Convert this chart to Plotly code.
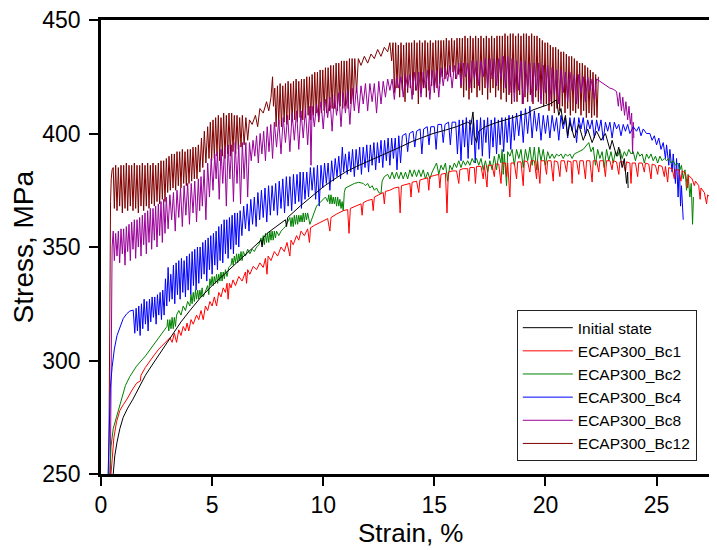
import plotly.graph_objects as go

# ---- data (strain %, stress MPa) ----
initial_state = [
    (0.55, 250), (0.62, 258), (0.72, 264), (0.85, 270), (1.0, 275), (1.2, 279), (1.44, 283), (1.7, 288),
    (2.0, 293.5), (2.3, 298), (2.6, 302.5), (2.97, 308), (3.3, 313), (3.6, 317), (4.0, 322), (4.46, 327.5),
    (5.0, 333), (5.5, 337.5), (5.94, 341.5), (6.5, 346.5), (7.0, 351), (7.2, 353), (7.25, 350), (7.3, 354),
    (7.47, 356), (8.0, 360), (8.3, 362), (8.35, 359), (8.4, 363), (8.96, 368), (9.5, 372.5), (10.0, 376.5),
    (10.44, 379.5), (11.0, 383), (11.5, 385.5), (11.97, 387.5), (12.5, 390), (13.0, 392), (13.46, 394),
    (14.0, 396.5), (14.5, 398.5), (14.94, 400), (15.5, 401.5), (16.0, 403), (16.5, 405), (16.65, 404),
    (16.74, 409.5), (16.8, 399), (16.9, 396), (17.0, 401), (17.3, 403), (17.7, 404.5), (18.2, 406),
    (18.7, 407.5), (19.2, 409), (19.44, 410.4), (19.8, 411.5), (20.2, 413), (20.5, 414.8), (20.6, 408),
    (20.7, 411), (20.8, 404), (20.9, 408), (21.0, 399), (21.1, 405), (21.3, 398), (21.5, 404), (21.7, 397),
    (21.9, 402), (22.1, 396), (22.3, 401), (22.5, 397), (22.7, 400), (22.9, 393), (23.0, 397), (23.2, 390),
    (23.3, 394), (23.45, 385), (23.55, 389), (23.65, 378), (23.7, 383), (23.72, 376),
]

ecap_bc1 = [
    (0.45, 250), (0.5, 258), (0.58, 266), (0.7, 273), (0.85, 278), (1.0, 280.5), (1.17, 283), (1.4, 287),
    (1.6, 290), (1.77, 291), (1.8, 293.5), (2.0, 297), (2.2, 300), (2.4, 302.5), (2.6, 305), (2.85, 307.5),
    (3.1, 310), (3.2, 308), (3.3, 312), (3.4, 308), (3.5, 313.5), (3.6, 311), (3.7, 315), (3.8, 313),
    (3.87, 316.5), (3.95, 313), (4.05, 318), (4.15, 316), (4.3, 320), (4.4, 318), (4.5, 322), (4.6, 318),
    (4.7, 324), (4.8, 322), (4.9, 326), (5.0, 324), (5.1, 328), (5.2, 324), (5.3, 330), (5.4, 328),
    (5.5, 332), (5.6, 330), (5.67, 334), (5.72, 327), (5.78, 334), (5.85, 332), (5.94, 335.5), (6.05, 333),
    (6.2, 337), (6.35, 335), (6.5, 339), (6.55, 334), (6.6, 340), (6.7, 338), (6.85, 341.5), (7.0, 340),
    (7.15, 343), (7.3, 341), (7.4, 345), (7.47, 338), (7.52, 346), (7.65, 344), (7.8, 348), (7.95, 346),
    (8.1, 350), (8.25, 348), (8.37, 352), (8.5, 346), (8.55, 353), (8.65, 351), (8.8, 355), (8.9, 353),
    (9.0, 357), (9.15, 355), (9.3, 358), (9.38, 352), (9.43, 358.5), (9.6, 359.5), (9.8, 360.5),
    (10.0, 361.5), (10.2, 362.5), (10.3, 357), (10.35, 363), (10.6, 364.5), (10.9, 366), (11.1, 366.5),
    (11.16, 356), (11.22, 367), (11.5, 368), (11.7, 369), (11.75, 364), (11.8, 369.5), (12.0, 370.5),
    (12.2, 371), (12.25, 366), (12.3, 372), (12.5, 373), (12.7, 374), (12.75, 369), (12.8, 374.5),
    (13.0, 375), (13.2, 376), (13.4, 376.4), (13.46, 365), (13.52, 377), (13.7, 377.5), (13.9, 378),
    (13.95, 372), (14.0, 378.5), (14.2, 379), (14.3, 374), (14.35, 379.5), (14.5, 380), (14.7, 380.5),
    (14.75, 375), (14.8, 381), (15.0, 381.5), (15.2, 382), (15.25, 376), (15.3, 382), (15.5, 382.5),
    (15.57, 365), (15.63, 383), (15.8, 383.5), (16.0, 383.5), (16.1, 378), (16.15, 384), (16.3, 384.5),
    (16.5, 384.5), (16.55, 379), (16.6, 385), (16.8, 385), (16.85, 378), (16.9, 385.5), (17.1, 385.5),
    (17.2, 380), (17.25, 386), (17.37, 376.4), (17.42, 386), (17.6, 386), (17.7, 381), (17.75, 386.5),
    (17.9, 386.5), (18.0, 378), (18.05, 387), (18.2, 387), (18.25, 381), (18.3, 387), (18.4, 372),
    (18.45, 387), (18.6, 387), (18.7, 380), (18.75, 387.5), (18.9, 387.5), (19.0, 377), (19.05, 388),
    (19.2, 387.5), (19.3, 383), (19.35, 388), (19.5, 388), (19.6, 380), (19.65, 388), (19.75, 378),
    (19.8, 388), (19.95, 388), (20.05, 382), (20.1, 388), (20.25, 388), (20.35, 379), (20.4, 388),
    (20.55, 387.5), (20.65, 381), (20.7, 388), (20.85, 388), (20.95, 383), (21.0, 388), (21.15, 387.5),
    (21.2, 378), (21.25, 388), (21.4, 388), (21.5, 382), (21.55, 388), (21.7, 388), (21.8, 380),
    (21.85, 388), (22.0, 388), (22.1, 378.6), (22.15, 388), (22.3, 388), (22.4, 383), (22.45, 388),
    (22.6, 388), (22.7, 381), (22.75, 388), (22.9, 388), (23.0, 384), (23.05, 388), (23.2, 387.5),
    (23.3, 382), (23.35, 387.5), (23.5, 387.5), (23.6, 383), (23.65, 387.5), (23.8, 387), (23.85, 378),
    (23.9, 387), (24.05, 387), (24.15, 381), (24.2, 387), (24.35, 387), (24.45, 383), (24.5, 387),
    (24.65, 386.5), (24.75, 380), (24.8, 386.5), (24.95, 386), (25.05, 382), (25.1, 386), (25.25, 385.5),
    (25.35, 381), (25.4, 385.5), (25.5, 378.6), (25.55, 385), (25.7, 384.5), (25.8, 380), (25.85, 384),
    (26.0, 384), (26.1, 379), (26.15, 383.5), (26.3, 382.6), (26.4, 376), (26.45, 381.5), (26.6, 380),
    (26.7, 377), (26.75, 379), (26.9, 377), (26.96, 371), (27.0, 376), (27.15, 374), (27.25, 369),
    (27.3, 373), (27.45, 371.5), (27.54, 368), (27.6, 370),
]

ecap_bc2 = [
    (0.40, 250), (0.45, 262), (0.55, 270), (0.72, 276), (0.9, 283), (1.1, 289), (1.3, 293), (1.6, 297.5),
    (2.0, 302), (2.2, 304.6), (2.6, 310), (2.97, 315), (3.0, 318), (3.05, 313), (3.1, 318), (3.15, 314),
    (3.2, 319), (3.25, 314), (3.3, 319), (3.35, 315), (3.4, 320), (3.5, 322), (3.6, 320), (3.7, 324),
    (3.8, 322), (3.9, 326), (4.0, 324), (4.05, 329), (4.1, 325), (4.15, 330), (4.2, 326), (4.25, 331),
    (4.3, 327), (4.35, 331), (4.4, 327), (4.45, 331), (4.5, 328), (4.55, 332), (4.6, 328), (4.7, 331),
    (4.8, 333), (4.85, 329), (4.9, 336), (4.95, 333), (5.0, 337), (5.05, 333), (5.1, 337), (5.15, 334),
    (5.2, 338), (5.25, 334), (5.3, 338), (5.35, 335), (5.4, 339), (5.45, 335), (5.5, 339), (5.55, 336),
    (5.6, 340), (5.67, 337), (5.75, 341), (5.85, 342), (5.9, 345), (5.95, 342), (6.0, 346), (6.05, 343),
    (6.1, 347), (6.15, 343), (6.2, 347), (6.25, 344), (6.3, 348), (6.35, 344), (6.4, 348), (6.5, 346),
    (6.6, 349), (6.7, 347), (6.8, 349), (6.9, 348), (7.0, 350), (7.1, 351), (7.2, 354), (7.25, 351),
    (7.3, 355), (7.35, 351), (7.4, 356), (7.45, 352), (7.5, 356), (7.55, 352), (7.6, 357), (7.65, 353),
    (7.7, 357), (7.75, 353), (7.8, 357), (7.85, 354), (7.9, 357), (8.0, 355), (8.1, 357), (8.2, 358),
    (8.3, 359), (8.4, 361), (8.5, 363), (8.55, 359), (8.6, 363), (8.65, 359), (8.7, 364), (8.75, 360),
    (8.8, 364), (8.85, 360), (8.9, 364), (8.95, 361), (9.0, 364), (9.05, 361), (9.1, 365), (9.15, 361),
    (9.2, 365), (9.25, 362), (9.3, 365), (9.4, 360), (9.5, 363), (9.6, 366), (9.7, 368), (9.8, 369),
    (9.9, 370), (10.0, 371), (10.1, 372), (10.2, 370), (10.25, 373), (10.3, 369), (10.35, 373),
    (10.4, 369), (10.45, 372), (10.5, 369), (10.55, 372), (10.6, 368), (10.65, 372), (10.7, 368),
    (10.75, 371), (10.8, 367), (10.85, 370), (10.9, 366), (10.95, 374), (11.0, 376), (11.2, 377),
    (11.4, 378), (11.6, 378.5), (11.8, 378), (11.9, 377), (12.0, 378), (12.1, 376), (12.2, 377),
    (12.3, 375), (12.4, 376), (12.5, 374), (12.6, 373.5), (12.65, 379), (12.75, 381), (12.9, 382),
    (13.0, 380), (13.1, 383), (13.2, 380), (13.3, 383), (13.4, 380), (13.5, 383), (13.6, 380), (13.7, 383),
    (13.8, 380), (13.9, 384), (14.0, 381), (14.1, 384), (14.2, 381), (14.3, 384), (14.4, 381), (14.5, 384),
    (14.6, 380), (14.7, 383), (14.8, 380), (14.9, 383), (15.0, 385), (15.1, 387), (15.2, 382), (15.3, 386),
    (15.4, 384), (15.5, 387), (15.6, 379), (15.7, 386), (15.8, 384), (15.9, 387), (16.0, 385), (16.1, 388),
    (16.2, 385), (16.3, 388), (16.4, 386), (16.5, 388), (16.6, 386), (16.7, 389), (16.8, 387), (16.9, 389),
    (17.0, 386), (17.1, 389), (17.2, 384), (17.3, 388), (17.4, 383), (17.5, 388), (17.6, 384), (17.7, 390),
    (17.8, 384), (17.9, 391), (18.0, 387), (18.05, 393), (18.1, 382), (18.15, 391), (18.25, 377),
    (18.3, 392), (18.4, 390), (18.5, 393), (18.6, 386), (18.7, 393), (18.8, 389), (18.9, 393), (19.0, 385),
    (19.1, 393), (19.2, 388), (19.3, 394), (19.4, 386), (19.5, 394), (19.6, 384), (19.7, 394), (19.8, 388),
    (19.9, 393), (20.0, 386), (20.1, 392), (20.2, 389), (20.3, 391), (20.4, 389), (20.5, 391), (20.6, 390),
    (20.7, 391), (20.8, 389), (20.9, 391), (21.0, 390), (21.1, 391), (21.2, 389), (21.3, 391), (21.5, 392),
    (21.7, 393), (21.95, 396), (22.05, 392), (22.15, 394), (22.25, 386), (22.35, 393), (22.45, 389),
    (22.55, 392), (22.65, 385), (22.75, 393), (22.85, 388), (22.95, 392), (23.05, 387), (23.15, 392),
    (23.25, 390), (23.35, 393), (23.45, 389), (23.55, 392), (23.65, 390), (23.75, 393), (23.85, 391),
    (23.95, 392), (24.05, 388), (24.15, 392), (24.25, 390), (24.35, 391), (24.45, 387), (24.55, 391),
    (24.65, 389), (24.75, 391), (24.85, 388), (24.95, 390), (25.05, 387), (25.15, 390), (25.25, 388),
    (25.35, 389), (25.45, 388), (25.55, 389), (25.65, 387), (25.75, 388), (25.85, 386), (25.95, 387),
    (26.05, 384), (26.12, 386), (26.2, 380), (26.28, 384), (26.35, 375), (26.42, 382), (26.5, 372),
    (26.56, 378), (26.62, 360), (26.66, 372),
]

ecap_bc4 = [
    (0.32, 250), (0.36, 270), (0.42, 288), (0.5, 297), (0.6, 305), (0.72, 311), (0.86, 315), (1.0, 318.5),
    (1.16, 320.6), (1.3, 321.8), (1.45, 322.2), (1.52, 312), (1.58, 323), (1.64, 313), (1.7, 324),
    (1.76, 311), (1.82, 325), (1.88, 314), (1.94, 327), (2.0, 316), (2.06, 326), (2.12, 313), (2.18, 327),
    (2.24, 317), (2.3, 328), (2.36, 319), (2.42, 328), (2.48, 316), (2.54, 329), (2.6, 320), (2.66, 330),
    (2.72, 318), (2.78, 331), (2.84, 320), (2.9, 336), (2.96, 324), (3.02, 341), (3.08, 326), (3.14, 338),
    (3.2, 327), (3.26, 342), (3.32, 325), (3.38, 343), (3.44, 329), (3.5, 344), (3.56, 327), (3.62, 345),
    (3.68, 330), (3.74, 344), (3.8, 328), (3.86, 346), (3.92, 331), (3.98, 347), (4.04, 329), (4.1, 348),
    (4.16, 333), (4.22, 349), (4.28, 331), (4.34, 350), (4.4, 334), (4.46, 350), (4.52, 336), (4.58, 352),
    (4.64, 338), (4.7, 353), (4.76, 335), (4.82, 354), (4.88, 340), (4.94, 355), (5.0, 338), (5.06, 356),
    (5.12, 342), (5.18, 357), (5.24, 340), (5.3, 359), (5.36, 344), (5.42, 360), (5.48, 343), (5.54, 362),
    (5.6, 347), (5.66, 362), (5.72, 345), (5.78, 363), (5.84, 349), (5.9, 364), (5.96, 347), (6.02, 365),
    (6.08, 351), (6.14, 365), (6.2, 350), (6.26, 366), (6.34, 355), (6.42, 368), (6.5, 358), (6.58, 369),
    (6.66, 357), (6.74, 371), (6.82, 360), (6.9, 372), (6.98, 359), (7.06, 374), (7.14, 362), (7.22, 375),
    (7.3, 363), (7.38, 376), (7.46, 361), (7.54, 377), (7.62, 364), (7.7, 377), (7.78, 366), (7.86, 378),
    (7.94, 364), (8.02, 379), (8.1, 367), (8.18, 380), (8.26, 365), (8.34, 381), (8.42, 368), (8.5, 381),
    (8.58, 366), (8.66, 382), (8.74, 369), (8.82, 382), (8.9, 370), (8.96, 383), (9.02, 367), (9.1, 383),
    (9.18, 371), (9.26, 383), (9.34, 372), (9.42, 385), (9.5, 375), (9.58, 385), (9.66, 371), (9.74, 386),
    (9.82, 368), (9.9, 386), (9.98, 376), (10.06, 387), (10.14, 378), (10.22, 387), (10.3, 375),
    (10.38, 388), (10.46, 379), (10.54, 389), (10.62, 381), (10.7, 390), (10.78, 380), (10.86, 394),
    (10.92, 383), (11.0, 391), (11.08, 382), (11.16, 392), (11.24, 383), (11.32, 393), (11.4, 381),
    (11.48, 393), (11.56, 384), (11.64, 394), (11.72, 382), (11.8, 394), (11.88, 385), (11.96, 395),
    (12.04, 383), (12.12, 395), (12.2, 386), (12.28, 396), (12.36, 384), (12.44, 396), (12.52, 387),
    (12.6, 397), (12.68, 385), (12.76, 397), (12.84, 388), (12.92, 398), (13.0, 386), (13.08, 398),
    (13.16, 389), (13.24, 398), (13.32, 384), (13.4, 399), (13.48, 387), (13.56, 399), (13.72, 400),
    (13.8, 392), (13.88, 400), (14.04, 401), (14.12, 394), (14.2, 401), (14.36, 402), (14.44, 391),
    (14.52, 402), (14.68, 403), (14.76, 395), (14.84, 403), (15.0, 403), (15.08, 393), (15.16, 404),
    (15.32, 404), (15.4, 396), (15.48, 404), (15.64, 405), (15.72, 395), (15.8, 405), (15.96, 405),
    (16.04, 391), (16.12, 406), (16.2, 388), (16.28, 406), (16.36, 394), (16.44, 407), (16.52, 389),
    (16.6, 406), (16.68, 395), (16.76, 407), (16.84, 387), (16.92, 406), (17.0, 393), (17.08, 407),
    (17.16, 390), (17.24, 406), (17.32, 396), (17.4, 407), (17.48, 389), (17.56, 406), (17.64, 394),
    (17.72, 407), (17.8, 391), (17.88, 406), (17.96, 395), (18.04, 407), (18.12, 392), (18.2, 407),
    (18.28, 396), (18.36, 408), (18.44, 393), (18.52, 408), (18.6, 397), (18.7, 409), (18.8, 399),
    (18.9, 410), (19.0, 396), (19.1, 411), (19.2, 400), (19.3, 412), (19.4, 398), (19.5, 410), (19.6, 401),
    (19.7, 409), (19.8, 397), (19.9, 408), (20.0, 400), (20.1, 408), (20.2, 398), (20.3, 408), (20.4, 401),
    (20.5, 407), (20.6, 397), (20.7, 408), (20.8, 402), (20.9, 407), (21.0, 398), (21.1, 407), (21.2, 401),
    (21.3, 407), (21.4, 396), (21.5, 407), (21.6, 402), (21.7, 407), (21.8, 399), (21.9, 406), (22.0, 402),
    (22.1, 406), (22.2, 398), (22.3, 406), (22.4, 401), (22.5, 406), (22.6, 397), (22.7, 405), (22.8, 401),
    (22.9, 405), (23.0, 398), (23.1, 405), (23.2, 402), (23.3, 404), (23.4, 399), (23.5, 404), (23.6, 401),
    (23.7, 404), (23.8, 400), (23.95, 403), (24.1, 401), (24.2, 403), (24.3, 399), (24.4, 402),
    (24.55, 400), (24.7, 400), (24.8, 397), (24.9, 399), (25.0, 395), (25.1, 398), (25.2, 393),
    (25.3, 396), (25.4, 389), (25.45, 395), (25.55, 386), (25.6, 393), (25.7, 383), (25.75, 391),
    (25.85, 378), (25.9, 389), (25.97, 372), (26.02, 387), (26.08, 368), (26.12, 377), (26.2, 362),
]

ecap_bc8 = [
    (0.42, 250), (0.44, 290), (0.47, 330), (0.5, 350), (0.55, 357), (0.6, 344), (0.66, 356), (0.72, 346),
    (0.78, 357), (0.84, 343), (0.9, 358), (0.96, 347), (1.02, 358), (1.08, 342), (1.14, 359), (1.2, 348),
    (1.26, 360), (1.32, 344), (1.38, 361), (1.44, 349), (1.5, 362), (1.56, 345), (1.62, 362), (1.68, 350),
    (1.74, 363), (1.8, 346), (1.86, 364), (1.92, 351), (1.98, 365), (2.04, 347), (2.1, 366), (2.16, 352),
    (2.22, 367), (2.28, 349), (2.34, 367), (2.4, 353), (2.46, 368), (2.52, 350), (2.58, 369), (2.64, 355),
    (2.7, 370), (2.76, 352), (2.82, 371), (2.88, 356), (2.94, 372), (3.02, 358), (3.1, 373), (3.18, 362),
    (3.26, 374), (3.34, 357), (3.42, 375), (3.5, 363), (3.58, 376), (3.66, 359), (3.74, 377), (3.82, 364),
    (3.9, 378), (3.98, 360), (4.06, 378), (4.14, 365), (4.22, 379), (4.3, 361), (4.38, 380), (4.44, 366),
    (4.5, 381), (4.56, 368), (4.64, 384), (4.72, 362), (4.8, 387), (4.88, 372), (4.96, 389), (5.04, 375),
    (5.12, 391), (5.18, 380), (5.24, 392), (5.32, 371), (5.4, 393), (5.48, 378), (5.56, 394), (5.64, 368),
    (5.72, 395), (5.8, 380), (5.88, 395), (5.96, 370), (6.04, 396), (6.12, 378), (6.2, 395), (6.28, 369),
    (6.36, 396), (6.44, 380), (6.52, 396), (6.6, 372), (6.68, 396), (6.76, 388), (6.84, 397), (6.92, 390),
    (7.0, 399), (7.08, 387), (7.16, 400), (7.24, 391), (7.32, 401), (7.4, 388), (7.48, 403), (7.56, 392),
    (7.64, 404), (7.72, 389), (7.8, 405), (7.9, 394), (8.0, 406), (8.1, 391), (8.2, 407), (8.3, 396),
    (8.4, 408), (8.5, 392), (8.6, 409), (8.7, 397), (8.8, 410), (8.9, 393), (9.0, 410), (9.1, 398),
    (9.2, 411), (9.3, 395), (9.4, 412), (9.45, 386), (9.5, 412), (9.6, 403), (9.7, 413), (9.8, 406),
    (9.9, 414), (10.0, 402), (10.1, 415), (10.2, 407), (10.3, 416), (10.4, 401), (10.5, 417), (10.6, 408),
    (10.7, 418), (10.8, 403), (10.9, 418), (11.0, 409), (11.1, 419), (11.2, 404), (11.3, 420), (11.4, 410),
    (11.5, 421), (11.6, 409), (11.7, 421), (11.8, 413), (11.9, 422), (12.0, 410), (12.1, 422), (12.2, 414),
    (12.3, 422), (12.4, 409), (12.5, 423), (12.6, 413), (12.7, 423), (12.8, 416), (12.9, 424), (13.0, 419),
    (13.1, 424), (13.2, 415), (13.3, 425), (13.4, 420), (13.5, 425), (13.6, 416), (13.7, 426), (13.8, 420),
    (13.9, 426), (14.0, 415), (14.1, 427), (14.2, 419), (14.3, 427), (14.4, 416), (14.5, 427), (14.6, 420),
    (14.7, 428), (14.8, 415), (14.9, 428), (15.0, 419), (15.1, 428), (15.2, 416), (15.3, 429), (15.4, 421),
    (15.5, 429), (15.6, 423), (15.7, 430), (15.8, 420), (15.9, 430), (16.0, 424), (16.1, 431), (16.2, 421),
    (16.3, 431), (16.4, 425), (16.5, 431), (16.6, 420), (16.7, 432), (16.8, 424), (16.9, 432), (17.0, 421),
    (17.1, 432), (17.2, 425), (17.3, 433), (17.4, 420), (17.5, 433), (17.6, 424), (17.7, 433), (17.8, 421),
    (17.9, 433), (18.0, 424), (18.1, 434), (18.2, 420), (18.3, 434), (18.4, 418), (18.5, 433), (18.6, 414),
    (18.7, 432), (18.8, 419), (18.9, 432), (19.0, 413), (19.1, 432), (19.2, 418), (19.3, 431), (19.4, 414),
    (19.5, 431), (19.6, 419), (19.7, 431), (19.8, 413), (19.9, 430), (20.0, 418), (20.1, 430), (20.2, 414),
    (20.3, 429), (20.4, 417), (20.5, 428), (20.6, 413), (20.7, 428), (20.8, 418), (20.9, 427), (21.0, 414),
    (21.1, 427), (21.2, 419), (21.3, 426), (21.4, 413), (21.5, 426), (21.6, 418), (21.7, 425), (21.8, 414),
    (21.9, 425), (22.0, 419), (22.1, 424), (22.2, 415), (22.3, 424), (22.45, 423), (22.6, 422),
    (22.75, 421), (22.9, 420), (23.05, 419.5), (23.2, 418.5), (23.28, 412), (23.34, 418), (23.42, 410),
    (23.48, 416), (23.56, 408), (23.62, 414), (23.7, 406), (23.76, 412), (23.82, 404), (23.88, 409),
    (23.92, 391), (23.95, 405), (23.98, 398),
]

ecap_bc12 = [
    (0.35, 250), (0.37, 290), (0.40, 340), (0.43, 370), (0.46, 380), (0.50, 384), (0.55, 385), (0.60, 367),
    (0.66, 386), (0.72, 366), (0.78, 385), (0.84, 368), (0.90, 386), (0.96, 365), (1.02, 386), (1.08, 367),
    (1.14, 387), (1.20, 366), (1.26, 386), (1.32, 368), (1.38, 386), (1.44, 366), (1.50, 387), (1.56, 367),
    (1.62, 386), (1.68, 365), (1.74, 386), (1.80, 368), (1.86, 387), (1.92, 366), (1.98, 386), (2.04, 368),
    (2.10, 387), (2.16, 367), (2.22, 386), (2.28, 369), (2.34, 387), (2.40, 368), (2.46, 386), (2.52, 370),
    (2.58, 387), (2.64, 369), (2.70, 388), (2.76, 371), (2.82, 388), (2.88, 370), (2.94, 389), (3.00, 374),
    (3.06, 390), (3.12, 375), (3.18, 391), (3.24, 376), (3.30, 391), (3.36, 375), (3.42, 392), (3.48, 377),
    (3.54, 392), (3.60, 376), (3.66, 393), (3.72, 378), (3.78, 392), (3.84, 377), (3.90, 393), (3.96, 378),
    (4.02, 393), (4.08, 379), (4.14, 394), (4.20, 380), (4.26, 394), (4.32, 380), (4.38, 395), (4.45, 383),
    (4.52, 398), (4.58, 385), (4.65, 401), (4.72, 387), (4.80, 403), (4.86, 389), (4.92, 405), (4.98, 388),
    (5.04, 406), (5.10, 389), (5.16, 407), (5.22, 390), (5.28, 408), (5.34, 388), (5.40, 407), (5.46, 390),
    (5.52, 409), (5.58, 389), (5.64, 408), (5.70, 391), (5.76, 409), (5.82, 390), (5.88, 409), (5.94, 392),
    (6.00, 408), (6.06, 391), (6.12, 408), (6.18, 393), (6.24, 407), (6.30, 394), (6.36, 408), (6.44, 395),
    (6.52, 407), (6.60, 397), (6.68, 406), (6.80, 404), (6.95, 408), (7.05, 403), (7.15, 411), (7.30, 409),
    (7.45, 414), (7.55, 410), (7.65, 416), (7.72, 425), (7.76, 412), (7.82, 420), (7.88, 403), (7.94, 421),
    (8.00, 404), (8.06, 422), (8.12, 403), (8.18, 421), (8.24, 405), (8.30, 422), (8.36, 404), (8.42, 423),
    (8.48, 406), (8.54, 422), (8.60, 405), (8.66, 423), (8.72, 406), (8.78, 424), (8.84, 405), (8.90, 423),
    (8.96, 407), (9.02, 424), (9.08, 406), (9.14, 424), (9.20, 407), (9.26, 425), (9.32, 408), (9.38, 425),
    (9.44, 406), (9.50, 426), (9.56, 408), (9.62, 427), (9.68, 409), (9.74, 427), (9.80, 405), (9.86, 428),
    (9.92, 409), (9.98, 428), (10.04, 410), (10.10, 429), (10.16, 409), (10.22, 429), (10.28, 410),
    (10.34, 430), (10.40, 411), (10.46, 430), (10.52, 411), (10.58, 431), (10.64, 410), (10.70, 431),
    (10.76, 412), (10.82, 432), (10.88, 411), (10.94, 432), (11.00, 412), (11.06, 432), (11.12, 411),
    (11.18, 433), (11.24, 413), (11.30, 433), (11.36, 414), (11.42, 433), (11.50, 418), (11.58, 433),
    (11.70, 430), (11.85, 434), (12.00, 431), (12.15, 435), (12.30, 433), (12.45, 437), (12.60, 434),
    (12.75, 438), (12.90, 436), (13.00, 440), (13.08, 432), (13.14, 440), (13.20, 418), (13.26, 440),
    (13.32, 420), (13.38, 439), (13.44, 416), (13.50, 440), (13.56, 419), (13.62, 439), (13.68, 414),
    (13.74, 440), (13.80, 418), (13.86, 440), (13.92, 420), (13.98, 440), (14.04, 417), (14.10, 441),
    (14.16, 419), (14.22, 440), (14.28, 413), (14.34, 441), (14.40, 418), (14.46, 440), (14.52, 420),
    (14.58, 441), (14.64, 416), (14.70, 440), (14.76, 419), (14.82, 441), (14.88, 421), (14.94, 440),
    (15.00, 418), (15.06, 441), (15.12, 420), (15.18, 441), (15.24, 422), (15.30, 441), (15.36, 425),
    (15.42, 441), (15.48, 424), (15.54, 442), (15.60, 426), (15.66, 441), (15.72, 425), (15.78, 442),
    (15.84, 427), (15.90, 441), (15.96, 424), (16.02, 442), (16.08, 426), (16.14, 442), (16.20, 420),
    (16.26, 442), (16.32, 416), (16.38, 443), (16.44, 419), (16.50, 442), (16.56, 415), (16.62, 443),
    (16.68, 418), (16.74, 442), (16.80, 420), (16.86, 443), (16.92, 416), (16.98, 442), (17.04, 419),
    (17.10, 443), (17.16, 417), (17.22, 442), (17.28, 420), (17.34, 443), (17.40, 415), (17.46, 442),
    (17.52, 418), (17.58, 443), (17.64, 420), (17.70, 442), (17.76, 416), (17.82, 443), (17.88, 419),
    (17.94, 443), (18.00, 415), (18.06, 443), (18.12, 418), (18.18, 444), (18.24, 414), (18.30, 443),
    (18.36, 417), (18.42, 444), (18.48, 413), (18.54, 444), (18.60, 418), (18.66, 443), (18.72, 414),
    (18.78, 444), (18.84, 417), (18.90, 443), (18.96, 413), (19.02, 444), (19.08, 416), (19.14, 444),
    (19.20, 414), (19.26, 443), (19.32, 417), (19.38, 444), (19.44, 413), (19.50, 443), (19.56, 416),
    (19.62, 443), (19.68, 414), (19.74, 442), (19.80, 415), (19.86, 441), (19.92, 412), (19.98, 440),
    (20.04, 413), (20.10, 440), (20.16, 410), (20.22, 439), (20.28, 412), (20.34, 438), (20.40, 409),
    (20.46, 438), (20.52, 411), (20.58, 437), (20.64, 410), (20.70, 436), (20.76, 412), (20.82, 436),
    (20.88, 409), (20.94, 435), (21.00, 411), (21.06, 434), (21.12, 408), (21.18, 434), (21.24, 410),
    (21.30, 433), (21.36, 409), (21.42, 432), (21.48, 411), (21.54, 431), (21.60, 408), (21.66, 431),
    (21.72, 410), (21.78, 430), (21.84, 407), (21.90, 429), (21.96, 409), (22.02, 428), (22.08, 407),
    (22.14, 427), (22.20, 408), (22.26, 426), (22.32, 407), (22.38, 425),
]

series_names = ["Initial state", "ECAP300_Bc1", "ECAP300_Bc2", "ECAP300_Bc4", "ECAP300_Bc8", "ECAP300_Bc12"]
series_data = [initial_state, ecap_bc1, ecap_bc2, ecap_bc4, ecap_bc8, ecap_bc12]
series_colors = ["#000000", "#FF0000", "#008000", "#0000FF", "#990099", "#800000"]

x_ticks = [0, 5, 10, 15, 20, 25]
y_ticks = [250, 300, 350, 400, 450]

FONT = "Arial, 'Liberation Sans', sans-serif"

fig = go.Figure()
# draw the last series first so the earlier ones sit on top; legend order is reversed back
for name, pts, col in reversed(list(zip(series_names, series_data, series_colors))):
    fig.add_trace(go.Scatter(
        x=[p[0] for p in pts], y=[p[1] for p in pts], name=name, mode="lines",
        line=dict(color=col, width=1),
    ))

# the page body keeps its default 8px margin, so the figure is 8px smaller
# than the window and its own margins are 8px smaller on the left/top
fig.update_layout(
    width=709, height=542,
    margin=dict(l=93, r=0, t=12, b=76),
    paper_bgcolor="white", plot_bgcolor="white",
    font=dict(family=FONT, color="black"),
    showlegend=True,
    legend=dict(
        x=0.675, y=0.361, xanchor="left", yanchor="top",
        bgcolor="white", bordercolor="#222222", borderwidth=1,
        font=dict(family=FONT, size=15.5, color="black"),
        traceorder="reversed", itemwidth=50, tracegroupgap=0,
    ),
    xaxis=dict(
        range=[0, 27.72], tickvals=x_ticks, ticks="outside", ticklen=9, tickwidth=2,
        tickcolor="black", showline=True, linecolor="black", linewidth=2.5, mirror=True,
        showgrid=False, zeroline=False, tickfont=dict(size=23), ticklabelstandoff=0,
        ticklabeloverflow="allow",
    ),
    yaxis=dict(
        range=[250, 450], tickvals=y_ticks, ticks="outside", ticklen=9, tickwidth=2,
        tickcolor="black", showline=True, linecolor="black", linewidth=2.5,
        showgrid=False, zeroline=False, tickfont=dict(size=23), ticklabelstandoff=4,
        ticklabeloverflow="allow",
    ),
    annotations=[
        dict(text="Strain, %", xref="paper", yref="paper", x=0.503, y=-0.093,
             xanchor="center", yanchor="top", showarrow=False,
             font=dict(family=FONT, size=26, color="black")),
        dict(text="Stress, MPa", xref="paper", yref="paper", x=-0.126, y=0.5,
             xanchor="center", yanchor="middle", textangle=-90, showarrow=False,
             font=dict(family=FONT, size=28, color="black")),
    ],
)

fig.write_html("out.html")
